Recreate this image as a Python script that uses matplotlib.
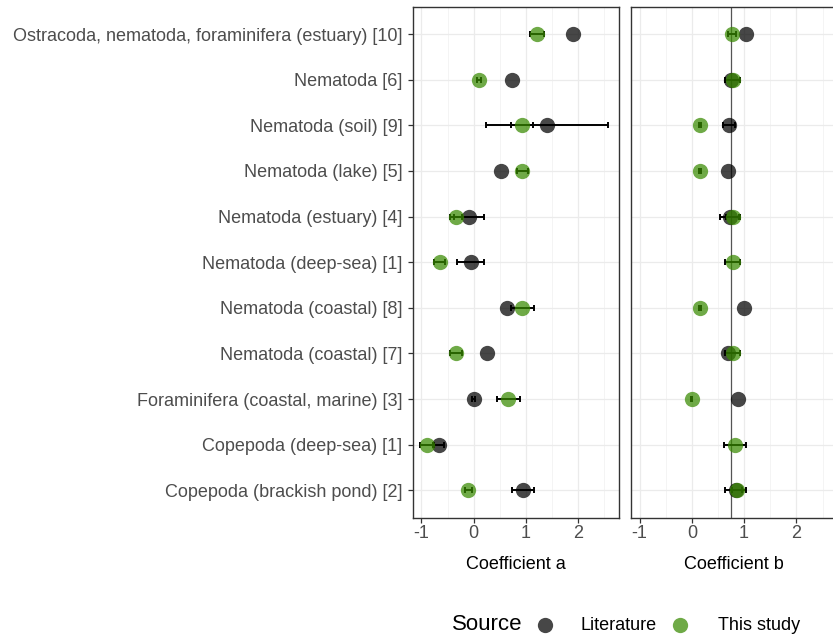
import numpy as np
import matplotlib
matplotlib.use("Agg")
from matplotlib import pyplot as plt
from matplotlib.lines import Line2D

plt.rcParams['font.family'] = ['Liberation Sans', 'DejaVu Sans']
plt.rcParams['axes.unicode_minus'] = False

# groups, listed top to bottom
groups = ['Ostracoda, nematoda, foraminifera (estuary) [10]',
          'Nematoda [6]',
          'Nematoda (soil) [9]',
          'Nematoda (lake) [5]',
          'Nematoda (estuary) [4]',
          'Nematoda (deep-sea) [1]',
          'Nematoda (coastal) [8]',
          'Nematoda (coastal) [7]',
          'Foraminifera (coastal, marine) [3]',
          'Copepoda (deep-sea) [1]',
          'Copepoda (brackish pond) [2]']

# coefficient a (nan = no error bar)
lit_a = [1.90, 0.73, 1.40, 0.52, -0.09, -0.06, 0.64, 0.25, 0.00, -0.67, 0.95]
lit_a_err = [np.nan, np.nan, 1.17, np.nan, 0.29, 0.25, np.nan, np.nan, 0.03, 0.11, 0.21]
own_a = [1.21, 0.10, 0.93, 0.93, -0.34, -0.65, 0.93, -0.34, 0.66, -0.89, -0.10]
own_a_err = [0.13, 0.04, 0.21, 0.10, 0.11, 0.11, 0.22, 0.11, 0.22, 0.13, 0.07]

# coefficient b (nan = no value)
lit_b = [1.04, 0.75, 0.71, 0.69, 0.73, np.nan, 0.99, 0.69, 0.875, np.nan, 0.84]
lit_b_err = [np.nan, np.nan, 0.11, np.nan, 0.20, np.nan, np.nan, np.nan, np.nan, np.nan, 0.20]
own_b = [0.77, 0.78, 0.16, 0.16, 0.78, 0.78, 0.16, 0.78, 0.00, 0.82, 0.86]
own_b_err = [0.07, 0.14, 0.02, 0.02, 0.12, 0.14, 0.02, 0.14, 0.01, 0.21, 0.09]

ref_b = 0.75

lit_color = '#000000'
own_color = '#388a00'
pt_alpha = 0.72

y = np.arange(len(groups))[::-1] + 1

fig = plt.figure(figsize=(8.33, 6.39), dpi=100)
ax_a = fig.add_axes([0.4952, 0.1898, 0.2473, 0.7997])
ax_b = fig.add_axes([0.7571, 0.1898, 0.2473, 0.7997])

def draw_panel(ax, lit, lit_err, own, own_err, xlabel):
    ax.errorbar(lit, y, xerr=lit_err, fmt='none', ecolor='black',
                elinewidth=1.4, capsize=2, capthick=1.4, zorder=3)
    ax.plot(lit, y, 'o', color=lit_color, alpha=pt_alpha, markersize=11,
            markeredgewidth=0, zorder=4)
    ax.errorbar(own, y, xerr=own_err, fmt='none', ecolor='black',
                elinewidth=1.4, capsize=2, capthick=1.4, zorder=5)
    ax.plot(own, y, 'o', color=own_color, alpha=pt_alpha, markersize=11,
            markeredgewidth=0, zorder=6)
    ax.set_xlim(-1.17, 2.77)
    ax.set_ylim(0.4, len(groups) + 0.6)
    ax.set_xticks([-1, 0, 1, 2])
    ax.set_xticks([-0.5, 0.5, 1.5, 2.5], minor=True)
    ax.set_yticks(y)
    ax.grid(which='major', color='#ebebeb', linewidth=0.9, zorder=0)
    ax.grid(which='minor', axis='x', color='#f3f3f3', linewidth=0.6, zorder=0)
    ax.set_axisbelow(True)
    for s in ax.spines.values():
        s.set_color('#333333')
        s.set_linewidth(1.0)
    ax.tick_params(which='major', length=3.6, width=0.9, color='#333333',
                   labelcolor='#4d4d4d', labelsize=13, pad=2)
    ax.tick_params(which='minor', length=0)
    ax.set_xlabel(xlabel, fontsize=13, color='black', labelpad=9.5)

draw_panel(ax_a, lit_a, lit_a_err, own_a, own_a_err, 'Coefficient a')
ax_a.set_yticklabels(groups)
ax_a.tick_params(axis='y', labelsize=13, pad=3.6)

draw_panel(ax_b, lit_b, lit_b_err, own_b, own_b_err, 'Coefficient b')
ax_b.axvline(ref_b, color='#555555', linewidth=0.9, zorder=2)
ax_b.set_yticklabels([])
ax_b.tick_params(axis='y', length=0)

# legend along the bottom
ly = 1 - 625 / 639
fig.text(452 / 833, ly, 'Source', fontsize=16, va='center', ha='left')
for x0, tx, col, lab in [(545, 580, lit_color, 'Literature'),
                         (680, 718, own_color, 'This study')]:
    fig.add_artist(Line2D([x0 / 833], [ly], marker='o', color=col, alpha=pt_alpha,
                          markersize=11, markeredgewidth=0, linestyle='none',
                          transform=fig.transFigure))
    fig.text(tx / 833, ly, lab, fontsize=13, va='center', ha='left')

fig.savefig('out.png', dpi=100)
